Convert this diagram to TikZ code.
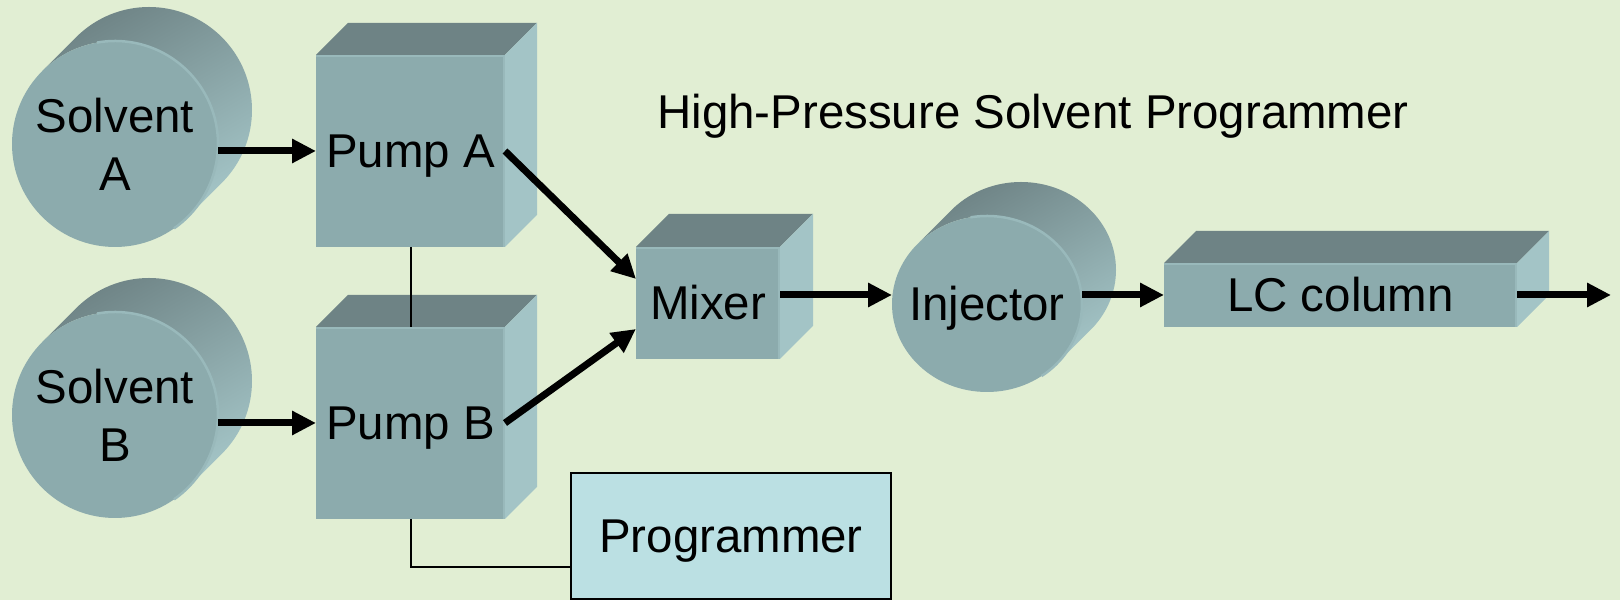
\documentclass[tikz,border=0pt]{standalone}
\usepackage{fontspec}
\setmainfont{Liberation Sans}
\usepackage{xcolor}
\usepackage{tikz}
\usetikzlibrary{positioning,arrows.meta,calc,backgrounds}
\definecolor{paper}{HTML}{E1EED3}
\definecolor{slate}{HTML}{8CABAD}
\definecolor{lid}{HTML}{6E8385}
\definecolor{flank}{HTML}{A3C4C6}
\definecolor{rim}{HTML}{99B9BB}
\definecolor{panel}{HTML}{BBE0E3}
\tikzset{
  block/.style={rectangle,fill=slate,inner sep=0pt,outer sep=0pt,
    text height=3.4mm,text depth=0pt},
  drum/.style={rectangle,inner sep=0pt,outer sep=0pt,align=center},
  drumside/.style={top color=lid,bottom color=flank,shading angle=30},
  ctrl/.style={rectangle,draw=black,line width=0.18mm,fill=panel,
    inner sep=0pt,text height=3.4mm,text depth=0pt},
  fl/.style={-{Triangle[length=2.4mm,width=2.3mm]},line width=0.7mm},
  wire/.style={line width=0.2mm},
}
% lid and right flank of a block node; #2 = depth
\newcommand\blockfaces[2]{%
  \fill[lid] (#1.north west) -- ++(#2,#2) -- ([shift={(#2,#2)}]#1.north east)
    -- (#1.north east) -- cycle;
  \fill[flank] (#1.north east) -- ++(#2,#2) -- ([shift={(#2,#2)}]#1.south east)
    -- (#1.south east) -- cycle;
  \draw[rim,line width=0.25mm] ([yshift=-0.12mm]#1.north west)
    -- ([shift={(-0.12mm,-0.12mm)}]#1.north east) -- ([xshift=-0.12mm]#1.south east);}
% drum body under a text node; #2,#3 = radii, #4 = depth
\newcommand\drumbody[4]{%
  \begin{scope}[on background layer]
    \shade[drumside] ([shift={(-45:#2 and #3)}]#1.center) -- ++(#4,#4)
      arc[start angle=-45,end angle=135,x radius=#2,y radius=#3] -- ++(-#4,-#4)
      arc[start angle=135,end angle=-45,x radius=#2,y radius=#3] -- cycle;
    \fill[slate] (#1.center) ellipse[x radius=#2,y radius=#3];
    \draw[rim,line width=0.25mm] ([shift={(-55:#2 and #3)}]#1.center)
      arc[start angle=-55,end angle=100,x radius=#2,y radius=#3];
  \end{scope}}

\begin{document}
\begin{tikzpicture}[x=0.1mm,y=0.1mm,font=\fontsize{13.5pt}{16.5pt}\selectfont]
  \useasboundingbox (0,0) rectangle (1620,600);
  \begin{scope}[on background layer]
    \fill[paper] (0,0) rectangle (1620,600);
  \end{scope}

  % solvents and pumps
  \node[drum,minimum width=20.6mm,minimum height=20.6mm] (solA) at (115,456) {Solvent\\A};
  \node[drum,minimum width=20.6mm,minimum height=20.6mm,below=6.5mm of solA] (solB) {Solvent\\B};
  \node[block,minimum width=18.9mm,minimum height=19.2mm] (pA) at (410.5,449) {Pump A};
  \node[block,minimum width=18.9mm,minimum height=19.2mm,below=8mm of pA] (pB) {Pump B};
  \drumbody{solA}{10.3mm}{10.3mm}{3.4mm}
  \drumbody{solB}{10.3mm}{10.3mm}{3.4mm}
  \blockfaces{pA}{3.2mm}
  \blockfaces{pB}{3.2mm}

  % mixer, injector, column
  \node[block,minimum width=14.4mm,minimum height=11.2mm] (mx) at (708,297) {Mixer};
  \node[drum,minimum width=19mm,minimum height=17.6mm,text height=3.4mm,text depth=0pt]
    (inj) at (987,296) {Injector};
  \node[block,minimum width=35.3mm,minimum height=6.4mm] (lc) at (1340.5,305) {LC column};
  \blockfaces{mx}{3.3mm}
  \drumbody{inj}{9.5mm}{8.8mm}{3.4mm}
  \blockfaces{lc}{3.2mm}
  \coordinate (out) at (1611,305);

  \node[ctrl,minimum width=32mm,minimum height=12.6mm] (prog) at (731,64) {Programmer};
  \node[anchor=base] (title) at (1033,471) {High-Pressure Solvent Programmer};

  % flow
  \draw[fl] (solA.east |- pA.west) -- (pA.west);
  \draw[fl] (solB.east |- pB.west) -- (pB.west);
  \draw[fl] (pA.east) -- ([yshift=2.4mm]mx.west);
  \draw[fl] (pB.east) -- ([yshift=-2.6mm]mx.west);
  \draw[fl] (mx.east |- lc.west) -- (inj.west |- lc.west);
  \draw[fl] (inj.east |- lc.west) -- (lc.west);
  \draw[fl] (lc.east) -- (out);

  % control wiring
  \draw[wire] (pA.south) -- (pB.north);
  \draw[wire] (pB.south) |- ([yshift=-3.1mm]prog.west);
\end{tikzpicture}
\end{document}
